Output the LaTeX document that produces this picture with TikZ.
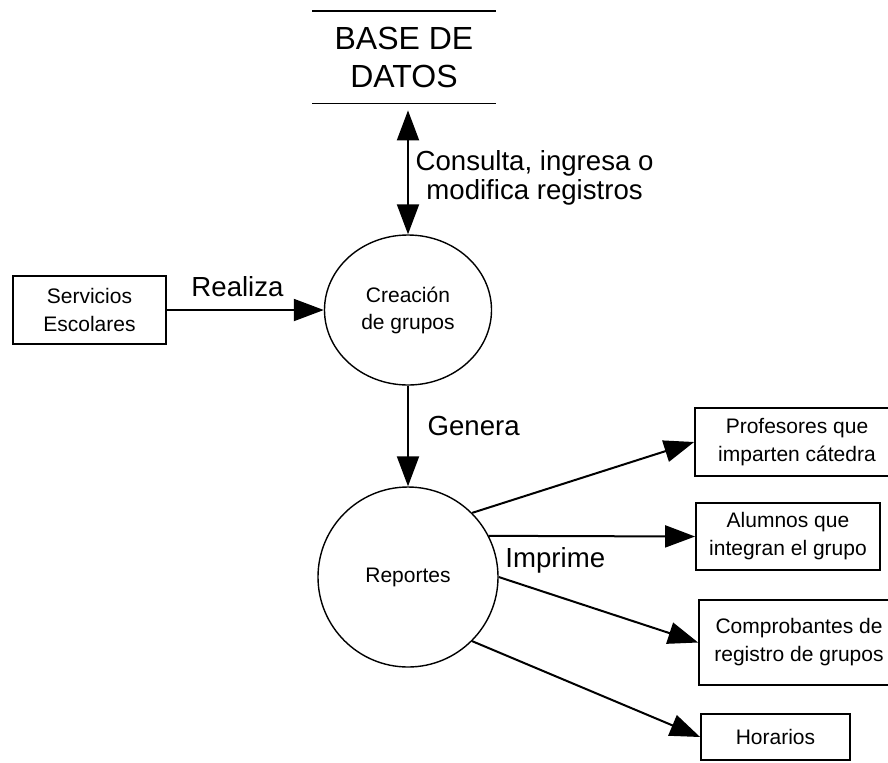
\documentclass[tikz,border=0pt]{standalone}
\usepackage{fontspec}
\setmainfont{Liberation Sans}
\usetikzlibrary{arrows.meta,shapes.geometric}

\begin{document}
\begin{tikzpicture}[x=0.5pt,y=-0.5pt,
        proc/.style={draw,line width=0.7pt,align=center,inner sep=0pt,font=\fontsize{10.5}{13.5}\selectfont},
        ent/.style={draw,line width=0.9pt,align=center,inner sep=0pt,font=\fontsize{10.5}{14}\selectfont},
        lbl/.style={align=center,font=\fontsize{13.8}{14.5}\selectfont},
        flow/.style={-{Triangle[length=15pt,width=11pt]},line width=1pt},
        dflow/.style={{Triangle[length=15pt,width=11pt]}-{Triangle[length=15pt,width=11pt]},line width=1pt}]
        \useasboundingbox (0,0) rectangle (888,762);
        \node[align=center,inner sep=0pt,minimum width=91.5pt,minimum height=46pt,font=\fontsize{16}{19}\selectfont] at (404,57)(db){BASE DE\\DATOS};
        \draw[line width=0.9pt] (db.north west)--(db.north east) (db.south west)--(db.south east);
        \node[proc,ellipse,minimum width=83.5pt,minimum height=75pt] at (408,310)(cre){Creación\\de grupos};
        \node[proc,circle,minimum size=90pt] at (408,577)(rep){Reportes};
        \node[ent,minimum width=76.5pt,minimum height=34pt] at (89.5,310)(serv){Servicios\\Escolares};
        \node[ent,minimum width=102pt,minimum height=34pt] at (797,442)(prof){Profesores que\\imparten cátedra};
        \node[ent,minimum width=92pt,minimum height=33.5pt] at (788,536.5)(alu){Alumnos que\\integran el grupo};
        \node[ent,minimum width=100pt,minimum height=42.5pt] at (799,642.5)(comp){Comprobantes de\\registro de grupos};
        \node[ent,minimum width=74.5pt,minimum height=23pt] at (775.5,737)(hor){Horarios};

        \path[dflow]
            (cre.north)edge[shorten >=3.5pt] node[lbl,right,pos=0.43]{Consulta, ingresa o\\modifica registros}(cre.north|-db.south)
            ;
        \path[flow]
            (serv)edge node[lbl,above,pos=0.45,yshift=3pt]{Realiza}(cre)
            (cre)edge node[lbl,right,pos=0.4,xshift=6pt]{Genera}(rep)
            (rep.45)edge(prof.west)
            (rep.27)edge node[lbl,anchor=north west,pos=0,xshift=4.5pt,yshift=-2pt]{Imprime}(alu.west)
            (rep.0)edge(comp.west)
            (rep.-45)edge(hor.west)
            ;
\end{tikzpicture}
\end{document}
